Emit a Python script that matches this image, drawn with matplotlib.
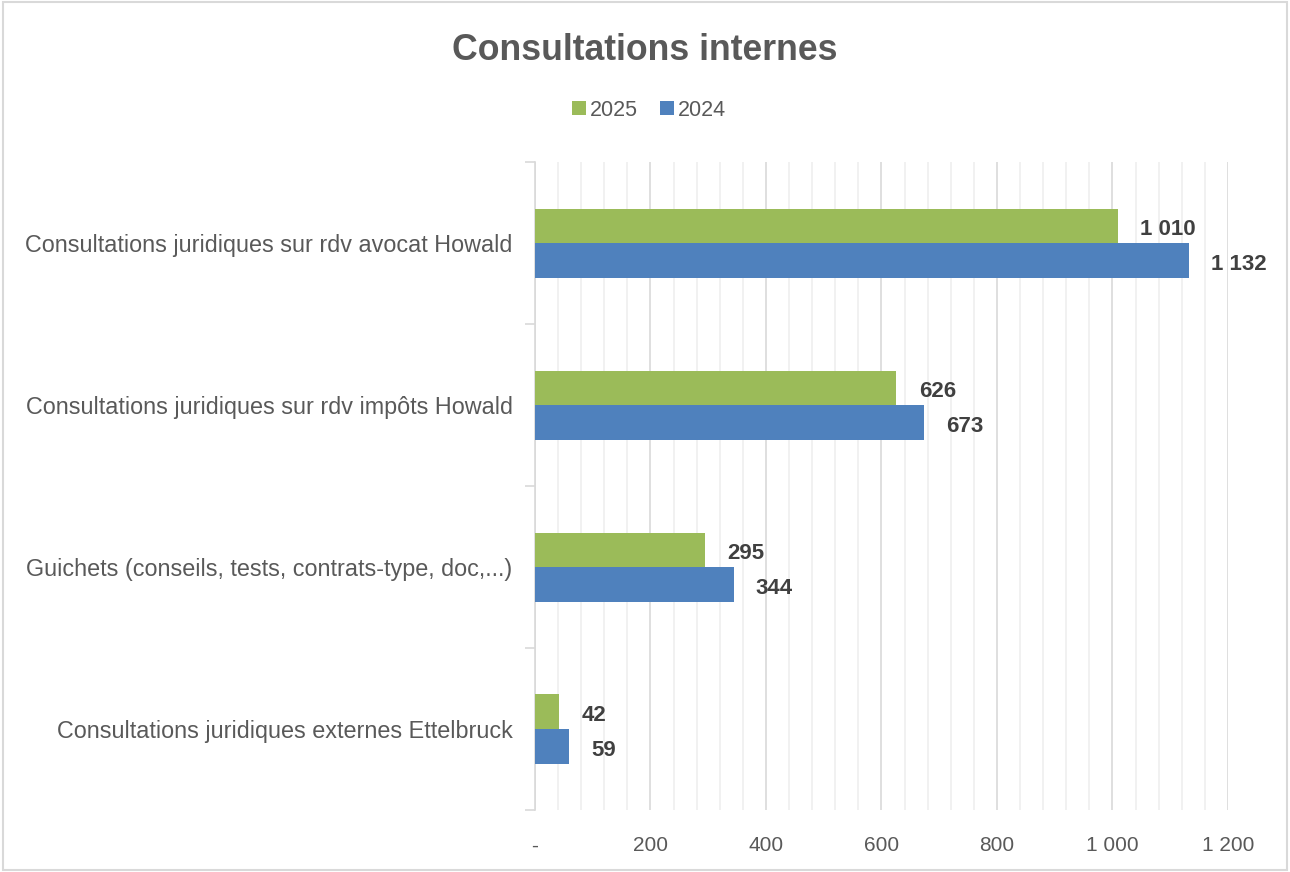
import numpy as np
import matplotlib.pyplot as plt
from matplotlib.patches import Rectangle
from matplotlib.ticker import MultipleLocator, FuncFormatter, FixedLocator

plt.rcParams['font.family'] = ['Liberation Sans', 'DejaVu Sans']

categories = [
    "Consultations juridiques sur rdv avocat Howald",
    "Consultations juridiques sur rdv impôts Howald",
    "Guichets (conseils, tests, contrats-type, doc,...)",
    "Consultations juridiques externes Ettelbruck",
]
values_2025 = [1010, 626, 295, 42]
values_2024 = [1132, 673, 344, 59]

green = "#9BBB59"
blue = "#4F81BD"
text_grey = "#595959"
label_grey = "#404040"

fig = plt.figure(figsize=(12.9, 8.72), dpi=100)
ax = fig.add_axes([0.4147, 0.0711, 0.5372, 0.7431])

y = np.arange(len(categories))
h = 0.213
b1 = ax.barh(y - h / 2, values_2025, height=h, color=green, label="2025", zorder=3)
b2 = ax.barh(y + h / 2, values_2024, height=h, color=blue, label="2024", zorder=3)


def fmt_num(v):
    if v == 0:
        return "-"
    return f"{int(v):,}".replace(",", " ")


for bars, vals in ((b1, values_2025), (b2, values_2024)):
    for rect, v in zip(bars, vals):
        ax.annotate(fmt_num(v), (v, rect.get_y() + rect.get_height() / 2),
                    xytext=(16, -3), textcoords="offset points",
                    ha="left", va="center", fontsize=16, fontweight="bold",
                    color=label_grey)

ax.set_xlim(0, 1200)
ax.set_ylim(len(categories) - 0.5, -0.5)

ax.xaxis.set_major_locator(MultipleLocator(200))
ax.xaxis.set_minor_locator(MultipleLocator(40))
ax.xaxis.set_major_formatter(FuncFormatter(lambda v, p: fmt_num(v)))
ax.grid(axis="x", which="major", color="#d9d9d9", linewidth=1.2, zorder=0)
ax.grid(axis="x", which="minor", color="#efefef", linewidth=1.2, zorder=0)
ax.tick_params(axis="x", which="both", length=0, pad=19, labelsize=15,
               labelcolor=text_grey)

# category boundaries get tick marks, labels sit at the group centres
ax.yaxis.set_major_locator(FixedLocator(np.arange(-0.5, len(categories), 1.0)))
ax.yaxis.set_minor_locator(FixedLocator(y))
ax.set_yticklabels([], minor=False)
ax.set_yticklabels(categories, minor=True)
ax.tick_params(axis="y", which="major", length=7, color="#d9d9d9", width=1.2)
ax.tick_params(axis="y", which="minor", length=0, pad=16, labelsize=16.8,
               labelcolor=text_grey)

for s in ("top", "right", "bottom"):
    ax.spines[s].set_visible(False)
ax.spines["left"].set_color("#d9d9d9")
ax.spines["left"].set_linewidth(1.2)

fig.text(0.5, 1 - 50 / 872, "Consultations internes", ha="center", va="center",
         fontsize=25.7, fontweight="bold", color=text_grey)

fig.legend(handles=[b1, b2], labels=["2025", "2024"], loc="center",
           bbox_to_anchor=(0.503, 1 - 110 / 872), ncol=2, frameon=False,
           fontsize=15.5, handlelength=0.65, handleheight=0.65, handletextpad=0.2,
           columnspacing=1.0, labelcolor=text_grey)

fig.patches.append(Rectangle((0.002, 0.002), 0.996, 0.996, transform=fig.transFigure,
                             fill=False, edgecolor="#d9d9d9", linewidth=1.5))

fig.savefig("out.png", dpi=100)
